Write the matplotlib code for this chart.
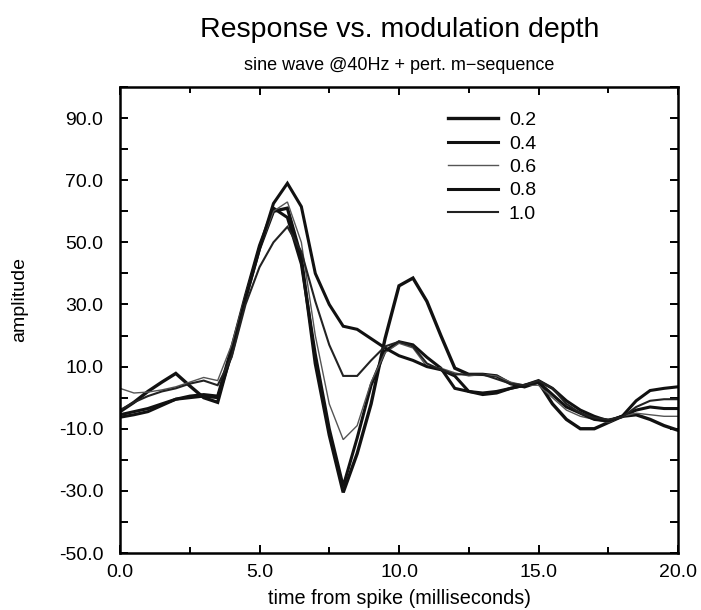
import numpy as np
import matplotlib
matplotlib.use("Agg")
import matplotlib.pyplot as plt
from matplotlib.ticker import MultipleLocator, FormatStrFormatter

plt.rcParams['font.family'] = ['Liberation Sans', 'DejaVu Sans']

# sample times (ms)
time_ms = np.arange(0, 20.01, 0.5)

# responses for each modulation depth
depth_labels = ['0.2', '0.4', '0.6', '0.8', '1.0']

resp_02 = [-4.5, -1.5, 2.0, 5.0, 7.8, 3.8, 0.0, -1.5, 15, 32, 48, 60, 61, 45, 11, -12,
           -30.5, -18, -2, 19, 36, 38.5, 31, 20, 9.5, 7.5, 7.5, 7.0, 4.5, 3.5, 5.0, -2,
           -7, -10, -10, -8, -6, -5.5, -7, -9, -10.5]
resp_04 = [-5.5, -4.5, -3.5, -2.0, -0.5, 0.5, 1.0, 0.5, 16, 33, 49, 61, 58, 43, 14, -10,
           -28.5, -13, 4, 15, 18, 17, 13, 9.5, 3, 2, 1.5, 2, 3, 4, 5.5, 3,
           -1, -4, -6, -7.5, -6, -4, -3, -3.5, -3.5]
resp_06 = [3.0, 1.5, 1.8, 2.5, 3.5, 5.0, 6.5, 5.5, 17, 33, 48, 60, 63, 50, 20, -2,
           -13.5, -9, 5, 14.5, 17.5, 16, 10, 9.5, 8, 7, 7.5, 7, 5, 4, 4, 0,
           -4, -6, -7, -8, -6, -5, -5.5, -6, -6]
resp_08 = [-6.3, -5.5, -4.5, -2.5, -0.5, 0.0, 0.5, 0.0, 14, 32, 48, 62.5, 69, 61.5, 40, 30,
           23, 22, 19, 16, 13.5, 12, 10, 9, 7, 2, 1, 1.5, 3, 4, 5, 1,
           -3, -5, -7, -7.5, -6, -1, 2.3, 3, 3.5]
resp_10 = [-4.0, -1.5, 0.5, 2.0, 3.0, 4.5, 5.5, 4.0, 13, 30, 42, 50, 55, 47, 31, 17,
           7, 7, 12, 16.5, 18, 16.5, 11, 9, 7.5, 7.5, 7.5, 6, 4.5, 4, 5.5, 3,
           -2, -5, -6.5, -7, -6.3, -3, -1, -0.5, -0.5]

series = [resp_02, resp_04, resp_06, resp_08, resp_10]
widths = [2.4, 2.2, 1.0, 2.2, 1.5]
colors = ['#111111', '#111111', '#555555', '#111111', '#222222']

fig = plt.figure(figsize=(7.01, 6.10), dpi=100)
ax = fig.add_axes([120/701, 1 - 553/610, 558/701, 466/610])

for vals, lab, lw, c in zip(series, depth_labels, widths, colors):
    ax.plot(time_ms, vals, color=c, lw=lw, label=lab, solid_joinstyle='miter')

ax.set_xlim(0, 20)
ax.set_ylim(-50, 100)
ax.xaxis.set_major_locator(MultipleLocator(5))
ax.xaxis.set_minor_locator(MultipleLocator(2.5))
ax.yaxis.set_minor_locator(MultipleLocator(10))
ax.set_yticks([-50, -30, -10, 10, 30, 50, 70, 90])
ax.xaxis.set_major_formatter(FormatStrFormatter('%.1f'))
ax.yaxis.set_major_formatter(FormatStrFormatter('%.1f'))

ax.tick_params(which='both', direction='in', top=True, right=True, width=1.4)
ax.tick_params(which='major', length=6, labelsize=14)
ax.tick_params(which='minor', length=4)
ax.tick_params(axis='y', which='minor', length=6)
ax.tick_params(axis='y', which='major', pad=12)
ax.tick_params(axis='x', which='major', pad=8)
for s in ax.spines.values():
    s.set_linewidth(1.8)

ax.set_xlabel('time from spike (milliseconds)', fontsize=14.3, labelpad=6)
ax.set_ylabel('amplitude', fontsize=14)
ax.yaxis.set_label_coords(-0.165, 0.545)

fig.text(400/701, 1 - 30/610, 'Response vs. modulation depth', ha='center', va='center', fontsize=20.5)
fig.text(399/701, 1 - 65/610, 'sine wave @40Hz + pert. m\u2212sequence', ha='center', va='center', fontsize=13)

leg = ax.legend(loc='upper left', bbox_to_anchor=(0.556, 0.985), frameon=False,
                fontsize=14, handlelength=2.6, handletextpad=0.55, labelspacing=0.3)

fig.savefig('out.png', dpi=100)
